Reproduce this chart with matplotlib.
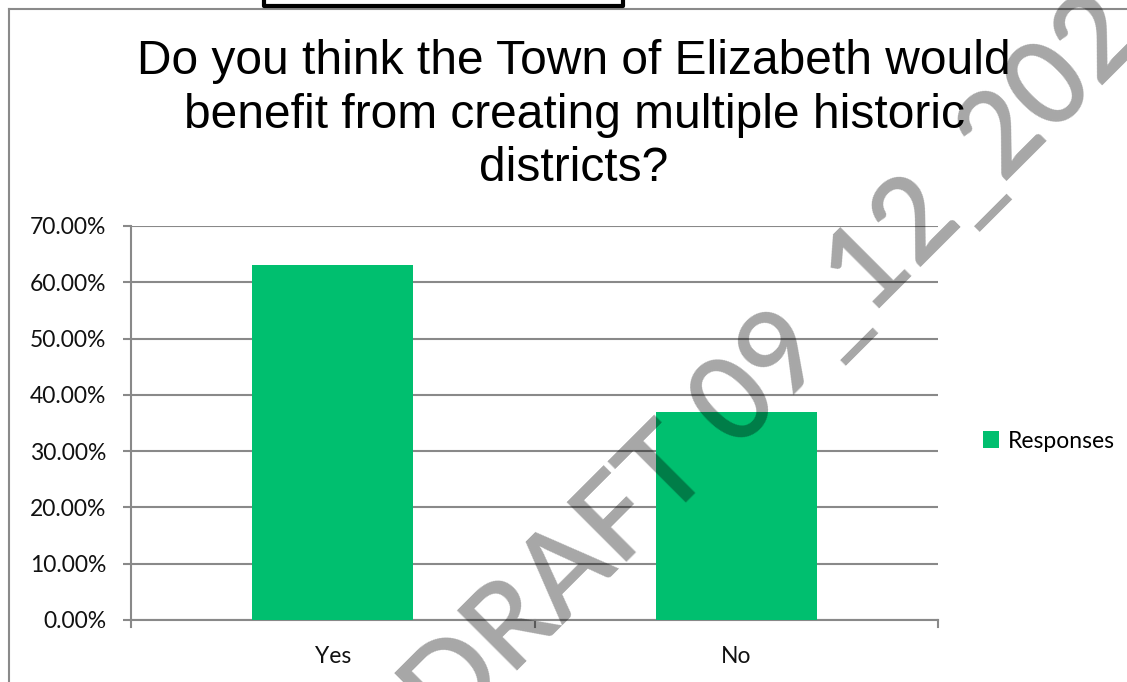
import matplotlib.pyplot as plt
from matplotlib.lines import Line2D
from matplotlib.ticker import FuncFormatter

categories = ['Yes', 'No']
responses = [0.63, 0.37]
y_ticks = [0.0, 0.1, 0.2, 0.3, 0.4, 0.5, 0.6, 0.7]

title = 'Do you think the Town of Elizabeth would\nbenefit from creating multiple historic\ndistricts?'
watermark = 'DRAFT 09_12_2021'

W, H = 1127, 682
GREEN = '#00BF6F'
GRID = '#898989'


def px(x, y):
    # pixel coords (top-left origin) -> figure fraction
    return x / W, 1 - y / H


def draw_chart():
    fig = plt.figure(figsize=(W / 100, H / 100), dpi=100)
    x0, y1 = px(131, 620)
    x1, y0 = px(938, 226)
    ax = fig.add_axes([x0, y1, x1 - x0, y0 - y1])

    ax.bar(categories, responses, width=0.4, color=GREEN, label='Responses', zorder=3)
    ax.set_xlim(-0.5, 1.5)
    ax.set_ylim(0, 0.7)
    ax.set_yticks(y_ticks)
    ax.yaxis.set_major_formatter(FuncFormatter(lambda v, p: '{:.2f}%'.format(v * 100)))
    ax.grid(axis='y', color=GRID, linewidth=1.5, zorder=0)
    ax.set_axisbelow(True)

    for s in ['top', 'right']:
        ax.spines[s].set_visible(False)
    for s in ['left', 'bottom']:
        ax.spines[s].set_color(GRID)
        ax.spines[s].set_linewidth(1.5)

    ax.tick_params(axis='y', length=6, width=1.5, color=GRID, labelsize=16.5, pad=12)
    ax.tick_params(axis='x', length=0, labelsize=16.5, pad=19)
    for lab in ax.get_xticklabels() + ax.get_yticklabels():
        lab.set_family('Lato')
        lab.set_color('#111111')
    # category separators below the axis, like Excel
    for xb in [-0.5, 0.5, 1.5]:
        ax.plot([xb, xb], [0, -0.013], color=GRID, lw=1.5, clip_on=False)

    fig.legend(loc='center left', bbox_to_anchor=px(962, 441), frameon=False,
               handlelength=0.7, handleheight=0.7, handletextpad=0.4,
               prop={'family': 'Lato', 'size': 16.5})

    fig.text(*px(574, 115), title, ha='center', va='center', fontsize=34.5,
             family='Liberation Sans', linespacing=1.24)

    # chart border and box fragment at the top
    fig.add_artist(Line2D([9 / W, 1], [1 - 9 / H] * 2, color='#8a8a8a', lw=1.5))
    fig.add_artist(Line2D([9 / W] * 2, [0, 1 - 9 / H], color='#8a8a8a', lw=1.5))
    fig.add_artist(Line2D([264 / W, 264 / W, 623 / W, 623 / W],
                          [1, 1 - 6 / H, 1 - 6 / H, 1], color='black', lw=3))

    fig.text(*px(448, 740), watermark, rotation=45, rotation_mode='anchor',
             ha='left', va='baseline', fontsize=84, family='Lato', weight='semibold',
             color='black', alpha=0.35, zorder=10)

    fig.savefig('out.png', dpi=100)


def main():
    draw_chart()


if __name__ == '__main__':
    main()
